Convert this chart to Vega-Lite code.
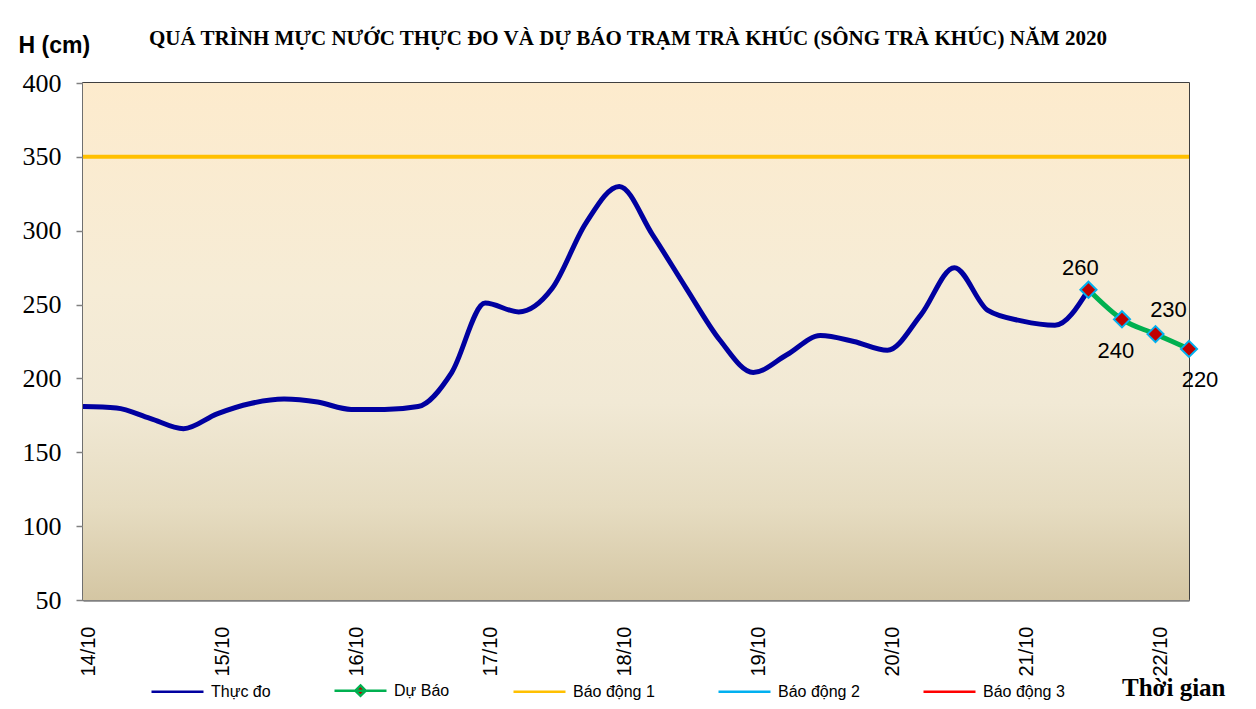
{
  "$schema": "https://vega.github.io/schema/vega-lite/v6.json",
  "width": 1106,
  "height": 517,
  "autosize": {"type": "none"},
  "padding": {"left": 83, "top": 83, "right": 67, "bottom": 109},
  "background": "white",
  "title": {
    "text": "QUÁ TRÌNH MỰC NƯỚC THỰC ĐO VÀ DỰ BÁO TRẠM TRÀ KHÚC (SÔNG TRÀ KHÚC) NĂM 2020",
    "font": "Liberation Serif",
    "fontSize": 21,
    "fontWeight": "bold",
    "color": "black",
    "anchor": "middle",
    "frame": "group",
    "dx": -8,
    "offset": -15
  },
  "config": {
    "view": {"stroke": "black", "strokeWidth": 1.5},
    "axis": {"zindex": 1}
  },
  "datasets": {
    "main": [
      {"t": "2020-10-14T00:00", "h": 181, "series": "Thực đo"},
      {"t": "2020-10-14T06:00", "h": 180, "series": "Thực đo"},
      {"t": "2020-10-14T12:00", "h": 173, "series": "Thực đo"},
      {"t": "2020-10-14T18:00", "h": 166, "series": "Thực đo"},
      {"t": "2020-10-15T00:00", "h": 176, "series": "Thực đo"},
      {"t": "2020-10-15T06:00", "h": 183, "series": "Thực đo"},
      {"t": "2020-10-15T12:00", "h": 186, "series": "Thực đo"},
      {"t": "2020-10-15T18:00", "h": 184, "series": "Thực đo"},
      {"t": "2020-10-16T00:00", "h": 179, "series": "Thực đo"},
      {"t": "2020-10-16T06:00", "h": 179, "series": "Thực đo"},
      {"t": "2020-10-16T12:00", "h": 181, "series": "Thực đo"},
      {"t": "2020-10-16T18:00", "h": 204, "series": "Thực đo"},
      {"t": "2020-10-17T00:00", "h": 251, "series": "Thực đo"},
      {"t": "2020-10-17T06:00", "h": 245, "series": "Thực đo"},
      {"t": "2020-10-17T12:00", "h": 261, "series": "Thực đo"},
      {"t": "2020-10-17T18:00", "h": 305, "series": "Thực đo"},
      {"t": "2020-10-18T00:00", "h": 330, "series": "Thực đo"},
      {"t": "2020-10-18T06:00", "h": 297, "series": "Thực đo"},
      {"t": "2020-10-18T12:00", "h": 261, "series": "Thực đo"},
      {"t": "2020-10-18T18:00", "h": 226, "series": "Thực đo"},
      {"t": "2020-10-19T00:00", "h": 204, "series": "Thực đo"},
      {"t": "2020-10-19T06:00", "h": 216, "series": "Thực đo"},
      {"t": "2020-10-19T12:00", "h": 229, "series": "Thực đo"},
      {"t": "2020-10-19T18:00", "h": 225, "series": "Thực đo"},
      {"t": "2020-10-20T00:00", "h": 219, "series": "Thực đo"},
      {"t": "2020-10-20T06:00", "h": 243, "series": "Thực đo"},
      {"t": "2020-10-20T12:00", "h": 275, "series": "Thực đo"},
      {"t": "2020-10-20T18:00", "h": 246, "series": "Thực đo"},
      {"t": "2020-10-21T00:00", "h": 239, "series": "Thực đo"},
      {"t": "2020-10-21T06:00", "h": 236, "series": "Thực đo"},
      {"t": "2020-10-21T12:00", "h": 260, "series": "Thực đo"},
      {"t": "2020-10-21T12:00", "h": 260, "series": "Dự Báo"},
      {"t": "2020-10-21T18:00", "h": 240, "series": "Dự Báo"},
      {"t": "2020-10-22T00:00", "h": 230, "series": "Dự Báo"},
      {"t": "2020-10-22T06:00", "h": 220, "series": "Dự Báo"}
    ],
    "alarms": [
      {"t": "2020-10-14T00:00", "h": 350, "series": "Báo động 1"},
      {"t": "2020-10-22T06:00", "h": 350, "series": "Báo động 1"},
      {"t": "2020-10-14T00:00", "h": 500, "series": "Báo động 2"},
      {"t": "2020-10-22T06:00", "h": 500, "series": "Báo động 2"},
      {"t": "2020-10-14T00:00", "h": 650, "series": "Báo động 3"},
      {"t": "2020-10-22T06:00", "h": 650, "series": "Báo động 3"}
    ]
  },
  "layer": [
    {
      "data": {"values": [{"t0": "2020-10-14T00:00", "t1": "2020-10-22T06:00", "lo": 50, "hi": 400}]},
      "mark": {
        "type": "rect",
        "color": {
          "gradient": "linear",
          "x1": 0, "y1": 0, "x2": 0, "y2": 1,
          "stops": [
            {"offset": 0, "color": "#FDEBCD"},
            {"offset": 0.4, "color": "#F6ECD6"},
            {"offset": 0.62, "color": "#F1E9D5"},
            {"offset": 0.82, "color": "#E6DCC1"},
            {"offset": 1, "color": "#D4C6A3"}
          ]
        }
      },
      "encoding": {
        "x": {
          "field": "t0", "type": "temporal",
          "scale": {"domain": [{"year": 2020, "month": 10, "date": 14, "hours": 0}, {"year": 2020, "month": 10, "date": 22, "hours": 6}]},
          "axis": {
            "values": [
              {"year": 2020, "month": 10, "date": 14, "hours": 0}, {"year": 2020, "month": 10, "date": 14, "hours": 6}, {"year": 2020, "month": 10, "date": 14, "hours": 12}, {"year": 2020, "month": 10, "date": 14, "hours": 18},
              {"year": 2020, "month": 10, "date": 15, "hours": 0}, {"year": 2020, "month": 10, "date": 15, "hours": 6}, {"year": 2020, "month": 10, "date": 15, "hours": 12}, {"year": 2020, "month": 10, "date": 15, "hours": 18},
              {"year": 2020, "month": 10, "date": 16, "hours": 0}, {"year": 2020, "month": 10, "date": 16, "hours": 6}, {"year": 2020, "month": 10, "date": 16, "hours": 12}, {"year": 2020, "month": 10, "date": 16, "hours": 18},
              {"year": 2020, "month": 10, "date": 17, "hours": 0}, {"year": 2020, "month": 10, "date": 17, "hours": 6}, {"year": 2020, "month": 10, "date": 17, "hours": 12}, {"year": 2020, "month": 10, "date": 17, "hours": 18},
              {"year": 2020, "month": 10, "date": 18, "hours": 0}, {"year": 2020, "month": 10, "date": 18, "hours": 6}, {"year": 2020, "month": 10, "date": 18, "hours": 12}, {"year": 2020, "month": 10, "date": 18, "hours": 18},
              {"year": 2020, "month": 10, "date": 19, "hours": 0}, {"year": 2020, "month": 10, "date": 19, "hours": 6}, {"year": 2020, "month": 10, "date": 19, "hours": 12}, {"year": 2020, "month": 10, "date": 19, "hours": 18},
              {"year": 2020, "month": 10, "date": 20, "hours": 0}, {"year": 2020, "month": 10, "date": 20, "hours": 6}, {"year": 2020, "month": 10, "date": 20, "hours": 12}, {"year": 2020, "month": 10, "date": 20, "hours": 18},
              {"year": 2020, "month": 10, "date": 21, "hours": 0}, {"year": 2020, "month": 10, "date": 21, "hours": 6}, {"year": 2020, "month": 10, "date": 21, "hours": 12}, {"year": 2020, "month": 10, "date": 21, "hours": 18},
              {"year": 2020, "month": 10, "date": 22, "hours": 0}
            ],
            "labelExpr": "hours(datum.value) === 0 ? timeFormat(datum.value, '%d/%m') : ''",
            "labelAngle": -90,
            "labelFont": "Liberation Sans",
            "labelFontSize": 20,
            "labelColor": "black",
            "labelPadding": 31,
            "labelOffset": 5,
            "labelOverlap": false,
            "labelBound": false,
            "labelFlush": false,
            "domainColor": "#808080",
            "domainWidth": 2.5,
            "tickColor": "#808080",
            "tickWidth": 1.5,
            "tickSize": -5,
            "grid": false,
            "title": "Thời gian",
            "titleFont": "Liberation Serif",
            "titleFontSize": 25,
            "titleFontWeight": "bold",
            "titleColor": "black",
            "titleAlign": "right",
            "titleBaseline": "alphabetic",
            "titleX": 1142,
            "titleY": 95
          }
        },
        "x2": {"field": "t1"},
        "y": {
          "field": "hi", "type": "quantitative",
          "scale": {"domain": [50, 400], "nice": false, "zero": false},
          "axis": {
            "values": [50, 100, 150, 200, 250, 300, 350, 400],
            "labelFont": "Liberation Serif",
            "labelFontSize": 26,
            "labelColor": "black",
            "labelPadding": 15,
            "domainColor": "#808080",
            "domainWidth": 2.5,
            "tickColor": "#808080",
            "tickWidth": 1.5,
            "tickSize": 7,
            "grid": false,
            "title": "H (cm)",
            "titleFont": "Liberation Sans",
            "titleFontSize": 23,
            "titleFontWeight": "bold",
            "titleColor": "black",
            "titleAngle": 0,
            "titleAlign": "left",
            "titleBaseline": "alphabetic",
            "titleX": -65,
            "titleY": -31
          }
        },
        "y2": {"field": "lo"}
      }
    },
    {
      "data": {"name": "alarms"},
      "mark": {"type": "line", "strokeWidth": 4, "clip": true},
      "encoding": {
        "x": {"field": "t", "type": "temporal"},
        "y": {"field": "h", "type": "quantitative"},
        "color": {"field": "series", "type": "nominal"}
      }
    },
    {
      "data": {"name": "main"},
      "mark": {"type": "line", "strokeWidth": 5, "interpolate": "monotone", "clip": true},
      "encoding": {
        "x": {"field": "t", "type": "temporal"},
        "y": {"field": "h", "type": "quantitative"},
        "color": {
          "field": "series", "type": "nominal",
          "scale": {
            "domain": ["Thực đo", "Dự Báo", "Báo động 1", "Báo động 2", "Báo động 3"],
            "range": ["#0000A0", "#00B050", "#FFC000", "#00B0F0", "#FF0000"]
          },
          "legend": {
            "title": null,
            "orient": "none",
            "direction": "horizontal",
            "columns": 5,
            "legendX": 67,
            "legendY": 580,
            "symbolType": "stroke",
            "symbolSize": 2704,
            "symbolStrokeWidth": 2.5,
            "labelFont": "Liberation Sans",
            "labelFontSize": 16,
            "labelColor": "black",
            "labelOffset": 6,
            "columnPadding": 58,
            "encode": {
              "symbols": {
                "update": {
                  "shape": {"signal": "datum.label === 'Dự Báo' ? 'M-1,0H1M0,-0.2L0.2,0L0,0.2L-0.2,0Z' : 'stroke'"},
                  "fill": {"signal": "datum.label === 'Dự Báo' ? '#C00000' : 'transparent'"}
                }
              }
            }
          }
        }
      }
    },
    {
      "data": {"name": "main"},
      "transform": [{"filter": "datum.series === 'Dự Báo'"}],
      "mark": {"type": "point", "shape": "diamond", "filled": true, "fill": "#C00000", "stroke": "#00B0F0", "strokeWidth": 2, "size": 260, "opacity": 1},
      "encoding": {
        "x": {"field": "t", "type": "temporal"},
        "y": {"field": "h", "type": "quantitative"}
      }
    },
    {
      "data": {"name": "main"},
      "transform": [{"filter": "datum.series === 'Dự Báo' && datum.h === 260"}],
      "mark": {"type": "text", "font": "Liberation Sans", "fontSize": 22, "color": "black", "dx": -8, "dy": -22},
      "encoding": {
        "x": {"field": "t", "type": "temporal"},
        "y": {"field": "h", "type": "quantitative"},
        "text": {"field": "h", "type": "quantitative"}
      }
    },
    {
      "data": {"name": "main"},
      "transform": [{"filter": "datum.series === 'Dự Báo' && datum.h === 240"}],
      "mark": {"type": "text", "font": "Liberation Sans", "fontSize": 22, "color": "black", "dx": -6, "dy": 32},
      "encoding": {
        "x": {"field": "t", "type": "temporal"},
        "y": {"field": "h", "type": "quantitative"},
        "text": {"field": "h", "type": "quantitative"}
      }
    },
    {
      "data": {"name": "main"},
      "transform": [{"filter": "datum.series === 'Dự Báo' && datum.h === 230"}],
      "mark": {"type": "text", "font": "Liberation Sans", "fontSize": 22, "color": "black", "dx": 13, "dy": -24},
      "encoding": {
        "x": {"field": "t", "type": "temporal"},
        "y": {"field": "h", "type": "quantitative"},
        "text": {"field": "h", "type": "quantitative"}
      }
    },
    {
      "data": {"name": "main"},
      "transform": [{"filter": "datum.series === 'Dự Báo' && datum.h === 220"}],
      "mark": {"type": "text", "font": "Liberation Sans", "fontSize": 22, "color": "black", "dx": 11, "dy": 31},
      "encoding": {
        "x": {"field": "t", "type": "temporal"},
        "y": {"field": "h", "type": "quantitative"},
        "text": {"field": "h", "type": "quantitative"}
      }
    }
  ]
}
